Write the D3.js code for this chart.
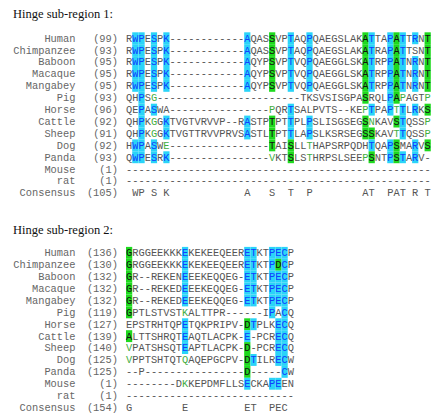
<!DOCTYPE html>
<html>
<head>
<meta charset="utf-8">
<script src="https://cdn.jsdelivr.net/npm/d3@7"></script>
<style>
  body { margin: 0; background: #fff; }
  svg { display: block; }
</style>
</head>
<body>
<div id="chart"></div>
<script>
// row labels, shared by both panels
const species = ["Human", "Chimpanzee", "Baboon", "Macaque", "Mangabey", "Pig", "Horse",
  "Cattle", "Sheep", "Dog", "Panda", "Mouse", "rat", "Consensus"];

// ---- hinge sub-region 1 ----
const start1 = [99, 93, 95, 95, 95, 93, 96, 92, 91, 92, 93, 1, 1, 105];
const seq1 = [
  "RWPESPK" + "-".repeat(12) + "AQASSVPTAQPQAEGSLAKATTAPATTRNT",
  "RWPESPK" + "-".repeat(12) + "AQASSVPTAQPQAEGSLAKATRAPATTSNT",
  "RWPESPK" + "-".repeat(12) + "AQYPSVPTVQPQAEGGLSKATRPPATNRNT",
  "RWPESPK" + "-".repeat(12) + "AQYPSVPTVQPQAEGGLSKATRPPATNRNT",
  "RWPESPK" + "-".repeat(12) + "AQYPSVPTVQPQAEGGLSKATRPPATNRNT",
  "QHPSG" + "-".repeat(23) + "TKSVSISGPASRQLPAPAGTP",
  "QEPASWA" + "-".repeat(16) + "PQRTSALPVTS--KEPTPAPTTLRKS",
  "QHPKGGKTVGTVRVVP--RASTPTPTTPLPSLISGSEGSNKAVSTQSSP",
  "QHPKGGKTVGTTRVVPRVSASTLTPTTLAPSLKSRSEGSSKAVTTQSSP",
  "HWPASWE" + "-".repeat(16) + "TAISLLTHAPSRPQDHTQAPSMARVS",
  "QWPESRK" + "-".repeat(16) + "VKTSLSTHRPSLSEEPSNTPSTARV-",
  "-".repeat(49),
  "-".repeat(49),
  " WP S K" + " ".repeat(12) + "A   S  T  P" + " ".repeat(8) + "AT  PAT R T"
];
// columns with blue-on-cyan, black-on-green and green-text residues
const cyan1 = [
  [1, 2, 4, 6, 19, 26, 29, 39, 42, 44, 46],
  [1, 2, 4, 6, 19, 26, 29, 39, 42, 44],
  [1, 2, 4, 6, 19, 26, 29, 39, 42, 44, 46],
  [1, 2, 4, 6, 19, 26, 29, 39, 42, 44, 46],
  [1, 2, 4, 6, 19, 26, 29, 39, 42, 44, 46],
  [2, 42],
  [2, 4, 26, 39, 42, 44, 46],
  [2, 6, 19, 26, 29, 44],
  [2, 6, 19, 26, 29, 44],
  [1, 2, 4, 39, 42, 46],
  [1, 2, 4, 6, 42, 44, 46],
  [], [], []
];
const green1 = [
  [23, 38, 43, 48], [23, 38, 43, 48], [23, 38, 43, 48], [23, 38, 43, 48], [23, 38, 43, 48],
  [38, 43],
  [48],
  [23, 38, 43],
  [23, 38, 39],
  [23, 26, 43, 48],
  [26, 39, 43],
  [], [], []
];
const weak1 = [
  [], [], [], [], [],
  [4, 44, 48],
  [23, 38, 43],
  [4, 39, 48],
  [4, 43, 48],
  [6, 29],
  [23, 29, 38],
  [], [], []
];

// ---- hinge sub-region 2 ----
const start2 = [136, 130, 132, 132, 132, 119, 127, 139, 140, 125, 125, 1, 1, 154];
const seq2 = [
  "GRGGEEKKKEKEKEEQEERETKTPECP",
  "GRGGEEKKKEKEKEEQEERETKTPDCP",
  "GR--REKENEEEKEQQEG-ETKTPECP",
  "GR--REKEDEEEKEQQEG-ETKTPECP",
  "GR--REKEDEEEKEQQEG-ETKTPECP",
  "GPTLSTVSTKALTTPR------IPACQ",
  "EPSTRHTQPETQKPRIPV-DTPLKECQ",
  "ALTTSHRQTEAQTLACPK-E-PCRECQ",
  "VPATSHSQTEAPTLACPK-D-PCRECQ",
  "VPPTSHTQTQAQEPGCPV-DTILRECW",
  "--P" + "-".repeat(16) + "D-----CW",
  "--------DKKEPDMFLLSECKAPEEN",
  "-".repeat(27),
  "G        E         ET  PEC "
];
const cyan2 = [
  [9, 19, 20, 23, 24, 25],
  [9, 19, 20, 23, 25],
  [9, 19, 20, 23, 24, 25],
  [9, 19, 20, 23, 24, 25],
  [9, 19, 20, 23, 24, 25],
  [23, 25],
  [9, 20, 24, 25],
  [9, 19, 24, 25],
  [9, 24, 25],
  [20, 24, 25],
  [25],
  [19, 23, 24],
  [], []
];
const green2 = [
  [0], [0, 24], [0], [0], [0], [0],
  [19], [0], [19], [19], [19],
  [], [], []
];
const weak2 = [
  [], [], [], [], [], [9],
  [], [], [0], [0, 9], [],
  [9], [], []
];

const W = 433, H = 418;
const colW = 6.22, rowH = 11.9, seqX = 126;
const mono = "'Liberation Mono', 'DejaVu Sans Mono', monospace";
const col = {
  plain: "#555", label: "#666",
  cyanBg: "#2ad4f8", cyanFg: "#1040ff",
  greenBg: "#1ed91e", greenFg: "#111",
  weakFg: "#3fae3f"
};

const svg = d3.select("#chart").append("svg")
  .attr("width", W).attr("height", H)
  .attr("viewBox", [0, 0, W, H]);

function panel(title, titleY, top, starts, seqs, cyan, green, weak) {
  const nCol = seqs[0].length;
  const x = d3.scaleBand().domain(d3.range(nCol)).range([seqX, seqX + nCol * colW]);
  const y = d3.scaleBand().domain(species).range([top, top + species.length * rowH]);

  const g = svg.append("g");
  g.append("text")
    .attr("x", 13).attr("y", titleY)
    .attr("font-family", "'Liberation Serif', 'Times New Roman', serif")
    .attr("font-size", 12.5).attr("fill", "#111")
    .text(title);

  const rows = g.selectAll(".row")
    .data(species.map((name, i) => ({
      name, start: starts[i], seq: seqs[i],
      kind: c => cyan[i].includes(c) ? "c" : green[i].includes(c) ? "g" : weak[i].includes(c) ? "t" : "."
    })))
    .join("g").attr("class", "row")
    .attr("transform", d => `translate(0,${y(d.name)})`);

  rows.append("text")
    .attr("x", 75.5).attr("y", rowH / 2).attr("dy", "0.33em")
    .attr("text-anchor", "end")
    .attr("font-family", mono).attr("font-size", 10.37).attr("fill", col.label)
    .text(d => d.name);

  rows.append("text")
    .attr("x", 118).attr("y", rowH / 2).attr("dy", "0.33em")
    .attr("text-anchor", "end")
    .attr("font-family", mono).attr("font-size", 10.37).attr("fill", col.label)
    .text(d => `(${d.start})`);

  const cells = rows.selectAll(".res")
    .data(d => d.seq.split("").map((ch, c) => ({ ch, c, k: d.kind(c) })))
    .join("g").attr("class", "res");

  cells.filter(d => d.k === "c" || d.k === "g")
    .append("rect")
    .attr("x", d => x(d.c)).attr("y", 0)
    .attr("width", x.bandwidth()).attr("height", rowH)
    .attr("fill", d => d.k === "c" ? col.cyanBg : col.greenBg);

  cells.filter(d => d.ch !== " ")
    .append("text")
    .attr("x", d => x(d.c) + x.bandwidth() / 2).attr("y", rowH / 2).attr("dy", "0.33em")
    .attr("text-anchor", "middle")
    .attr("font-family", mono).attr("font-size", 10.37)
    .attr("fill", d => d.k === "c" ? col.cyanFg : d.k === "g" ? col.greenFg : d.k === "t" ? col.weakFg : col.plain)
    .text(d => d.ch);
}

panel("Hinge sub-region 1:", 17.5, 32.3, start1, seq1, cyan1, green1, weak1);
panel("Hinge sub-region 2:", 234, 246.9, start2, seq2, cyan2, green2, weak2);
</script>
</body>
</html>
